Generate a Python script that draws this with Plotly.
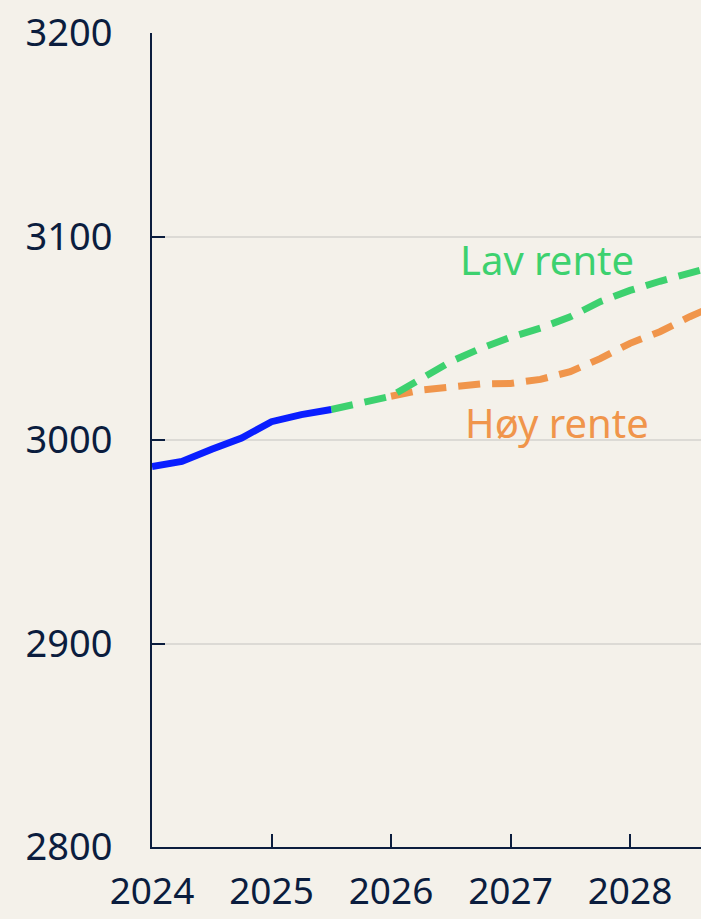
import plotly.graph_objects as go

# Data (quarterly, decimal years)
hist_x = [2024.0, 2024.25, 2024.5, 2024.75, 2025.0, 2025.25, 2025.5]
hist_y = [2987, 2989.5, 2995.5, 3001, 3009, 3012.5, 3015]

lav_x = [2025.5, 2025.75, 2026.0, 2026.25, 2026.5, 2026.75, 2027.0, 2027.25,
         2027.5, 2027.75, 2028.0, 2028.25, 2028.5, 2028.75]
lav_y = [3015, 3018.5, 3021.5, 3030, 3038.5, 3045, 3050.5, 3055,
         3060.5, 3068, 3073.5, 3078, 3082, 3086]

hoy_x = [2026.0, 2026.25, 2026.5, 2026.75, 2027.0, 2027.25, 2027.5, 2027.75,
         2028.0, 2028.25, 2028.5, 2028.75]
hoy_y = [3021.5, 3024.5, 3026, 3027.5, 3027.8, 3029.8, 3033.6, 3040,
         3047.5, 3053.2, 3060.6, 3067]

x_ticks = [2024, 2025, 2026, 2027, 2028]
y_ticks = [2800, 2900, 3000, 3100, 3200]

NAVY = "#0B1D3E"
BLUE = "#0A1EFF"
GREEN = "#3DD16F"
ORANGE = "#F0954B"
BG = "#F4F1EA"
FONT = "Noto Sans"

fig = go.Figure()
fig.add_trace(go.Scatter(x=hoy_x, y=hoy_y, mode="lines",
                         line=dict(color=ORANGE, width=7, dash="22px,12px"),
                         showlegend=False, hoverinfo="skip"))
fig.add_trace(go.Scatter(x=lav_x, y=lav_y, mode="lines",
                         line=dict(color=GREEN, width=7, dash="22px,12px"),
                         showlegend=False, hoverinfo="skip"))
fig.add_trace(go.Scatter(x=hist_x, y=hist_y, mode="lines",
                         line=dict(color=BLUE, width=7),
                         showlegend=False, hoverinfo="skip"))

fig.add_annotation(x=2027.305, y=3088.5, text="Lav rente", showarrow=False,
                   font=dict(family=FONT, size=40, color=GREEN))
fig.add_annotation(x=2027.39, y=3008.8, text="Høy rente", showarrow=False,
                   font=dict(family=FONT, size=40, color=ORANGE))

fig.update_layout(
    width=701, height=919,
    paper_bgcolor=BG, plot_bgcolor=BG,
    margin=dict(l=152, r=0, t=33, b=72),
    font=dict(family=FONT, color=NAVY, size=38),
    xaxis=dict(range=[2024, 2028.594], tickvals=x_ticks, tickformat="d",
               showline=True, linecolor=NAVY, linewidth=2,
               ticks="inside", ticklen=13, tickwidth=2, tickcolor=NAVY,
               showgrid=False, zeroline=False, ticklabelstandoff=11,
               automargin=False,
               tickfont=dict(family=FONT, size=37, color=NAVY)),
    yaxis=dict(range=[2800, 3200], tickvals=y_ticks, tickformat="d",
               showline=True, linecolor=NAVY, linewidth=2,
               ticks="inside", ticklen=13, tickwidth=2, tickcolor=NAVY,
               showgrid=True, gridcolor="#DCDAD5", gridwidth=2, zeroline=False,
               ticklabelstandoff=30, automargin=False,
               tickfont=dict(family=FONT, size=38, color=NAVY)),
)

fig.write_html(
    "out.html",
    config={"displayModeBar": False},
    post_script="document.body.style.margin='0';document.body.style.overflow='hidden';"
                "document.body.style.background='" + BG + "';",
)
